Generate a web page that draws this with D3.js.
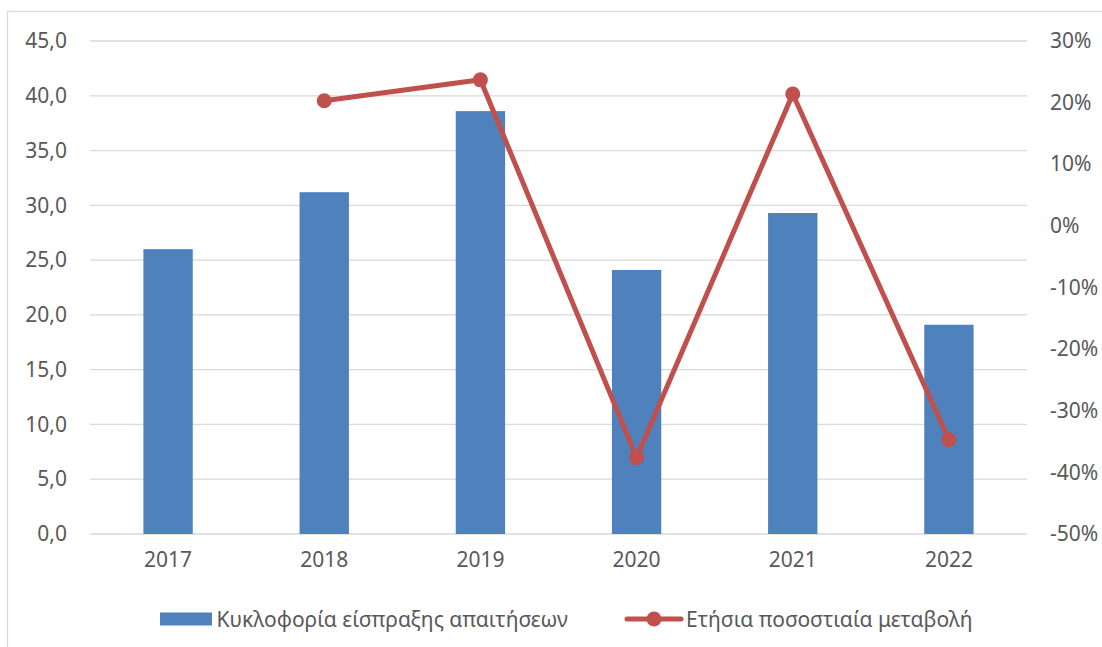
<!DOCTYPE html>
<html><head><meta charset="utf-8">
<script src="https://cdn.jsdelivr.net/npm/d3@7"></script>
<style>body{margin:0;background:#fff;}svg{display:block;}text{font-family:"Noto Sans",sans-serif;fill:#595959;}</style>
</head><body>
<svg id="c" width="1102" height="647"></svg>
<script>
const categories = ["2017","2018","2019","2020","2021","2022"];
const turnover = [26.0, 31.2, 38.6, 24.1, 29.3, 19.1];
const changePct = [null, 20.3, 23.7, -37.6, 21.4, -34.7];
const leftTicks = [0,5,10,15,20,25,30,35,40,45];
const rightTicks = [-50,-40,-30,-20,-10,0,10,20,30];
const seriesNames = ["Κυκλοφορία είσπραξης απαιτήσεων","Ετήσια ποσοστιαία μεταβολή"];

const svg = d3.select("#c");
const W = 1102, H = 647;
const x0 = 90, x1 = 1027, yTop = 41, yBot = 534;
const fs = 21;

svg.append("rect").attr("x",7.5).attr("y",11.5).attr("width",W+20).attr("height",H+20)
  .attr("fill","#fff").attr("stroke","#d9d9d9").attr("stroke-width",1.3);

const x = d3.scaleBand().domain(categories).range([x0,x1]).paddingInner(0.684).paddingOuter(0.342);
const yL = d3.scaleLinear().domain([0,45]).range([yBot,yTop]);
const yR = d3.scaleLinear().domain([-50,30]).range([yBot,yTop]);

// gridlines
svg.append("g").selectAll("line").data(leftTicks).join("line")
  .attr("x1",x0).attr("x2",x1).attr("y1",d=>yL(d)).attr("y2",d=>yL(d))
  .attr("stroke","#d9d9d9").attr("stroke-width",1.3);

// left axis
const fmtL = d => d3.format(".1f")(d).replace(".",",");
const gL = svg.append("g").attr("transform",`translate(${x0},0)`)
  .call(d3.axisLeft(yL).tickValues(leftTicks).tickFormat(fmtL).tickSize(0).tickPadding(23));
gL.select(".domain").remove();
gL.selectAll("text").style("font-size",fs+"px").attr("fill","#595959").attr("font-family","Noto Sans");

// right axis
const gR = svg.append("g").attr("transform",`translate(${x1},0)`)
  .call(d3.axisRight(yR).tickValues(rightTicks).tickFormat(d=>d+"%").tickSize(0).tickPadding(23));
gR.select(".domain").remove();
gR.selectAll("text").style("font-size",fs+"px").attr("fill","#595959").attr("font-family","Noto Sans");

// x axis
const gX = svg.append("g").attr("transform",`translate(0,${yBot})`)
  .call(d3.axisBottom(x).tickSize(0).tickPadding(18));
gX.select(".domain").remove();
gX.selectAll("text").style("font-size",fs+"px").attr("fill","#595959").attr("font-family","Noto Sans");

// bars
svg.append("g").selectAll("rect").data(categories).join("rect")
  .attr("x",d=>x(d)).attr("width",x.bandwidth())
  .attr("y",(d,i)=>yL(turnover[i])).attr("height",(d,i)=>yL(0)-yL(turnover[i]))
  .attr("fill","#4f81bd");

// line
const pts = categories.map((c,i)=>({c, v:changePct[i]})).filter(p=>p.v!==null);
const line = d3.line().x(p=>x(p.c)+x.bandwidth()/2).y(p=>yR(p.v));
svg.append("path").datum(pts).attr("d",line).attr("fill","none")
  .attr("stroke","#c0504d").attr("stroke-width",5).attr("stroke-linejoin","round");
svg.append("g").selectAll("circle").data(pts).join("circle")
  .attr("cx",p=>x(p.c)+x.bandwidth()/2).attr("cy",p=>yR(p.v)).attr("r",7.5)
  .attr("fill","#c0504d");

// legend
const lg = svg.append("g");
const ly = 619;
lg.append("rect").attr("x",160).attr("y",612.5).attr("width",52).attr("height",13).attr("fill","#4f81bd");
lg.append("text").attr("x",216.5).attr("y",ly).attr("dominant-baseline","central")
  .style("font-size",fs+"px").text(seriesNames[0]);
lg.append("line").attr("x1",627).attr("x2",681).attr("y1",ly).attr("y2",ly)
  .attr("stroke","#c0504d").attr("stroke-width",5).attr("stroke-linecap","round");
lg.append("circle").attr("cx",654).attr("cy",ly).attr("r",7.5).attr("fill","#c0504d");
lg.append("text").attr("x",686).attr("y",ly).attr("dominant-baseline","central")
  .style("font-size",fs+"px").text(seriesNames[1]);
</script>
</body></html>
